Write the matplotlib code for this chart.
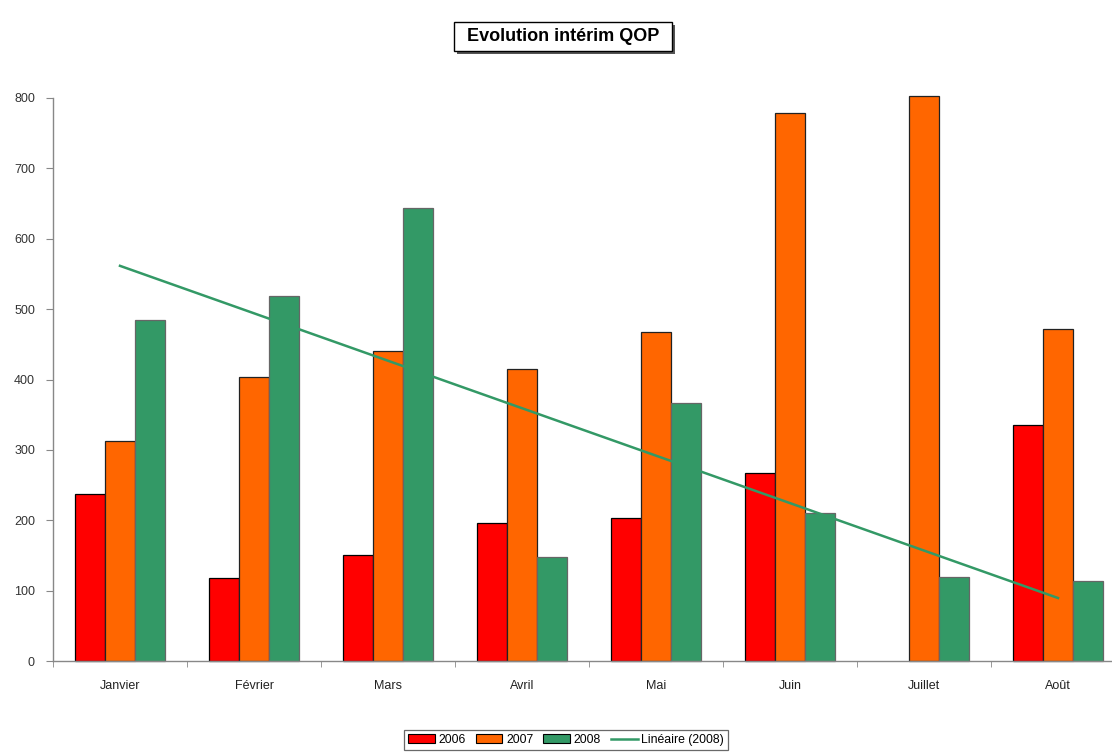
import numpy as np
import matplotlib
matplotlib.use("Agg")
import matplotlib.pyplot as plt
from matplotlib.patches import Patch, Rectangle
from matplotlib.lines import Line2D

plt.rcParams['font.family'] = ['Liberation Sans', 'DejaVu Sans']

months = ["Janvier", "Février", "Mars", "Avril", "Mai", "Juin", "Juillet", "Août"]
y2006 = [237, 118, 151, 196, 203, 267, np.nan, 336]
y2007 = [313, 404, 441, 415, 467, 779, 803, 472]
y2008 = [484, 518, 643, 148, 367, 211, 120, 113]
yticks = [0, 100, 200, 300, 400, 500, 600, 700, 800]

c2006 = "#FF0000"
c2007 = "#FF6600"
c2008 = "#339966"

W, H = 1112, 756
fig = plt.figure(figsize=(W / 100, H / 100), dpi=100)
ax = fig.add_axes([53 / W, 1 - 661 / H, 1072 / W, (661 - 98) / H])

x = np.arange(len(months))
w = 0.222
for off, vals, col, ec in [(-w, y2006, c2006, "black"),
                           (0, y2007, c2007, "#222222"),
                           (w, y2008, c2008, "#666666")]:
    b = ax.bar(x + off, vals, width=w, color=col, edgecolor=ec, linewidth=0.9)
    for r in b:
        r.set_clip_on(False)

# Linear trend of the 2008 series
xi = np.arange(1, len(months) + 1)
slope, icpt = np.polyfit(xi, y2008, 1)
ax.plot(x, slope * xi + icpt, color=c2008, lw=1.8, zorder=3)

ax.set_xlim(-0.5, len(months) - 0.5)
ax.set_ylim(0, 800)
ax.set_yticks(yticks)
ax.set_yticklabels([str(t) for t in yticks], fontsize=9, color="#333333")
ax.set_xticks(x)
ax.set_xticklabels(months, fontsize=9, color="#222222")
ax.set_xticks(np.arange(-0.5, len(months), 1), minor=True)
ax.tick_params(axis="x", which="major", length=0, pad=14)
ax.tick_params(axis="x", which="minor", length=4, color="#888888", direction="out")
ax.tick_params(axis="y", length=5, color="#888888", direction="out", pad=8)

for s in ["top", "right"]:
    ax.spines[s].set_visible(False)
for s in ["left", "bottom"]:
    ax.spines[s].set_color("#888888")
    ax.spines[s].set_linewidth(1.0)

# Title box with drop shadow
bx0, by0, bw, bh = 454, 22, 218, 29
fig.patches.append(Rectangle((( bx0 + 3) / W, 1 - (by0 + bh + 3) / H), bw / W, bh / H,
                             transform=fig.transFigure, fc="#555555", ec="none", zorder=1))
fig.patches.append(Rectangle((bx0 / W, 1 - (by0 + bh) / H), bw / W, bh / H,
                             transform=fig.transFigure, fc="white", ec="black", lw=1.0,
                             zorder=2))
fig.text((bx0 + bw / 2) / W, 1 - (by0 + bh / 2) / H, "Evolution intérim QOP",
         ha="center", va="center", fontsize=13, fontweight="bold", zorder=3)

handles = [Patch(fc=c2006, ec="black", lw=0.8),
           Patch(fc=c2007, ec="black", lw=0.8),
           Patch(fc=c2008, ec="black", lw=0.8),
           Line2D([], [], color=c2008, lw=1.8)]
labels = ["2006", "2007", "2008", "Linéaire (2008)"]
leg = fig.legend(handles, labels, loc="center", bbox_to_anchor=(566 / W, 1 - 740 / H),
                 ncol=4, fontsize=8.8, frameon=True, fancybox=False, handlelength=2.2,
                 handletextpad=0.3, columnspacing=0.8, borderpad=0.3)
leg.get_frame().set_edgecolor("#444444")
leg.get_frame().set_linewidth(0.9)

fig.savefig("out.png", dpi=100)
